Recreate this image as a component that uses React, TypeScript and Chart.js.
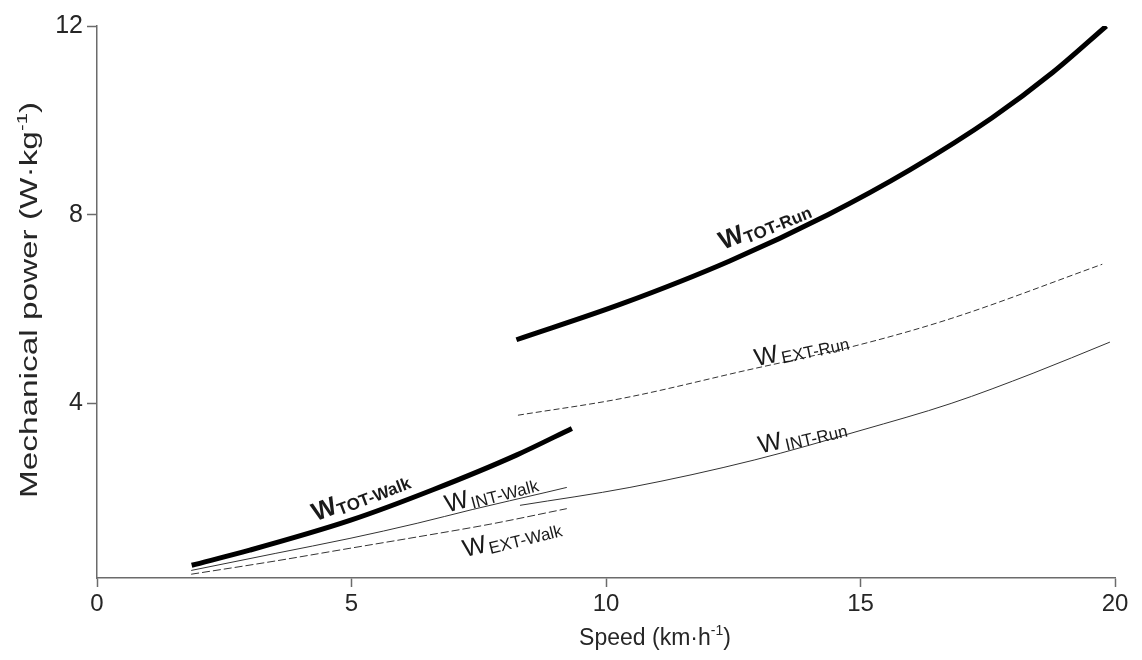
import React, { useEffect, useRef } from 'react';
import { Chart, registerables } from 'chart.js';

Chart.register(...registerables);

// ---------- data ----------
const X_TICKS = [0, 5, 10, 15, 20];
const Y_TICKS = [4, 8, 12];

const totWalkX = [1.86, 3.0, 4.97, 6.6, 8.25, 9.33];
const totWalkY = [0.57, 0.89, 1.52, 2.17, 2.91, 3.47];
const intWalkX = [1.85, 3.5, 4.97, 6.29, 7.37, 8.84, 9.23];
const intWalkY = [0.46, 0.82, 1.14, 1.46, 1.75, 2.12, 2.22];
const extWalkX = [1.85, 3.5, 4.97, 6.29, 7.72, 9.23];
const extWalkY = [0.38, 0.66, 0.93, 1.17, 1.44, 1.77];
const totRunX = [8.24, 10.33, 12.43, 14.36, 15.97, 17.58, 18.78, 19.83];
const totRunY = [5.35, 6.12, 7.02, 8.0, 8.95, 10.05, 11.02, 12.0];
const extRunX = [8.27, 10.33, 12.75, 14.93, 16.78, 19.75];
const extRunY = [3.75, 4.11, 4.7, 5.23, 5.8, 6.95];
const intRunX = [8.31, 10.47, 12.91, 15.01, 16.78, 18.39, 19.9];
const intRunY = [1.84, 2.22, 2.8, 3.43, 4.0, 4.64, 5.3];

const LABEL_SUBS = ['TOT-Walk', 'INT-Walk', 'EXT-Walk', 'TOT-Run', 'EXT-Run', 'INT-Run'];
const LABEL_X = [4.3, 6.88, 7.23, 12.3, 12.95, 13.03];
const LABEL_Y = [1.5, 1.69, 0.74, 7.25, 4.79, 2.94];

const X_TITLE = ['Speed (km·h', '-1', ')'];
const Y_TITLE = ['Mechanical power (W·kg', '-1', ')'];

// ---------- styles ----------
const FONT = '"Liberation Sans", Arial, sans-serif';
const AXIS = '#6b6b6b';
const TXT = '#262626';
const LABEL_STYLE = [
  { angle: -21, bold: true, main: 26, sub: 17, gap: 0, drop: 3 },
  { angle: -15, bold: false, main: 25, sub: 17, gap: 2, drop: 3 },
  { angle: -14, bold: false, main: 25, sub: 17, gap: 2, drop: 3 },
  { angle: -22, bold: true, main: 26, sub: 17, gap: 0, drop: 3 },
  { angle: -12, bold: false, main: 25, sub: 17, gap: 3, drop: 3 },
  { angle: -13, bold: false, main: 25, sub: 17, gap: 3, drop: 3 },
];

const pts = (xs: number[], ys: number[]) => xs.map((x, i) => ({ x, y: ys[i] }));

function drawRich(ctx: CanvasRenderingContext2D, parts: string[], size: number) {
  const supSize = Math.round(size * 0.6);
  ctx.font = `${size}px ${FONT}`;
  const w0 = ctx.measureText(parts[0]).width;
  const w2 = ctx.measureText(parts[2]).width;
  ctx.font = `${supSize}px ${FONT}`;
  const w1 = ctx.measureText(parts[1]).width;
  const total = w0 + w1 + w2;
  let cx = -total / 2;
  ctx.textAlign = 'left';
  ctx.textBaseline = 'alphabetic';
  ctx.font = `${size}px ${FONT}`;
  ctx.fillText(parts[0], cx, 0);
  cx += w0;
  ctx.font = `${supSize}px ${FONT}`;
  ctx.fillText(parts[1], cx, -size * 0.42);
  cx += w1;
  ctx.font = `${size}px ${FONT}`;
  ctx.fillText(parts[2], cx, 0);
}

const decorPlugin = {
  id: 'decor',
  afterDatasetsDraw(chart: any) {
    const { ctx, scales } = chart;
    const xs = scales.x;
    const ys = scales.y;
    LABEL_SUBS.forEach((sub, i) => {
      const st = LABEL_STYLE[i];
      const px = xs.getPixelForValue(LABEL_X[i]);
      const py = ys.getPixelForValue(LABEL_Y[i]);
      ctx.save();
      ctx.translate(px, py);
      ctx.rotate((st.angle * Math.PI) / 180);
      ctx.fillStyle = '#1a1a1a';
      ctx.textAlign = 'left';
      ctx.textBaseline = 'alphabetic';
      ctx.font = `${st.bold ? 'bold ' : ''}${st.main}px ${FONT}`;
      ctx.fillText('W', 0, 0);
      const w = ctx.measureText('W').width;
      ctx.font = `${st.bold ? 'bold ' : ''}${st.sub}px ${FONT}`;
      ctx.fillText(sub, w + st.gap, st.drop);
      ctx.restore();
    });
    // axis titles
    ctx.save();
    ctx.fillStyle = TXT;
    ctx.translate(655, 645);
    drawRich(ctx, X_TITLE, 23);
    ctx.restore();
    ctx.save();
    ctx.fillStyle = TXT;
    ctx.translate(37, 300);
    ctx.rotate(-Math.PI / 2);
    ctx.scale(1.45, 1.0);
    drawRich(ctx, Y_TITLE, 23);
    ctx.restore();
  },
};

export default function App() {
  const ref = useRef<HTMLCanvasElement | null>(null);
  useEffect(() => {
    document.body.style.margin = '0';
    if (!ref.current) return;
    const thick = { borderColor: '#000', borderWidth: 5, borderCapStyle: 'butt' };
    const thin = { borderColor: '#333', borderWidth: 1 };
    const dashWalk = { borderColor: '#333', borderWidth: 1, borderDash: [8, 3] };
    const dashRun = { borderColor: '#333', borderWidth: 1, borderDash: [6, 3] };
    const common = { showLine: true, pointRadius: 0, cubicInterpolationMode: 'monotone', fill: false };
    const chart = new Chart(ref.current, {
      type: 'scatter',
      data: {
        datasets: [
          { label: 'W TOT-Walk', data: pts(totWalkX, totWalkY), ...common, ...thick },
          { label: 'W INT-Walk', data: pts(intWalkX, intWalkY), ...common, ...thin },
          { label: 'W EXT-Walk', data: pts(extWalkX, extWalkY), ...common, ...dashWalk },
          { label: 'W TOT-Run', data: pts(totRunX, totRunY), ...common, ...thick },
          { label: 'W EXT-Run', data: pts(extRunX, extRunY), ...common, ...dashRun },
          { label: 'W INT-Run', data: pts(intRunX, intRunY), ...common, ...thin },
        ] as any,
      },
      options: {
        responsive: false,
        animation: false,
        layout: { padding: { left: 37, right: 27, top: 26, bottom: 22 } },
        plugins: { legend: { display: false }, tooltip: { enabled: false } },
        scales: {
          x: {
            type: 'linear',
            min: 0,
            max: 20,
            afterBuildTicks: (s: any) => {
              s.ticks = X_TICKS.map((v) => ({ value: v }));
            },
            afterFit: (s: any) => {
              s.height = 60;
            },
            grid: { drawOnChartArea: false, drawTicks: true, tickLength: 9, tickColor: AXIS, tickWidth: 1.5 },
            border: { display: true, color: AXIS, width: 1.5 },
            ticks: { font: { size: 24, family: FONT }, color: TXT, padding: 3, maxRotation: 0 },
          },
          y: {
            type: 'linear',
            min: 0.3,
            max: 12,
            afterBuildTicks: (s: any) => {
              s.ticks = Y_TICKS.map((v) => ({ value: v }));
            },
            afterFit: (s: any) => {
              s.width = 60;
            },
            grid: { drawOnChartArea: false, drawTicks: true, tickLength: 10, tickColor: AXIS, tickWidth: 1.5 },
            border: { display: true, color: AXIS, width: 1.5 },
            ticks: { font: { size: 25, family: FONT }, color: TXT, padding: 4 },
          },
        },
      } as any,
      plugins: [decorPlugin],
    });
    return () => chart.destroy();
  }, []);
  return (
    <div style={{ width: 1142, height: 660, background: '#fff' }}>
      <canvas ref={ref} width={1142} height={660} style={{ display: 'block' }} />
    </div>
  );
}
